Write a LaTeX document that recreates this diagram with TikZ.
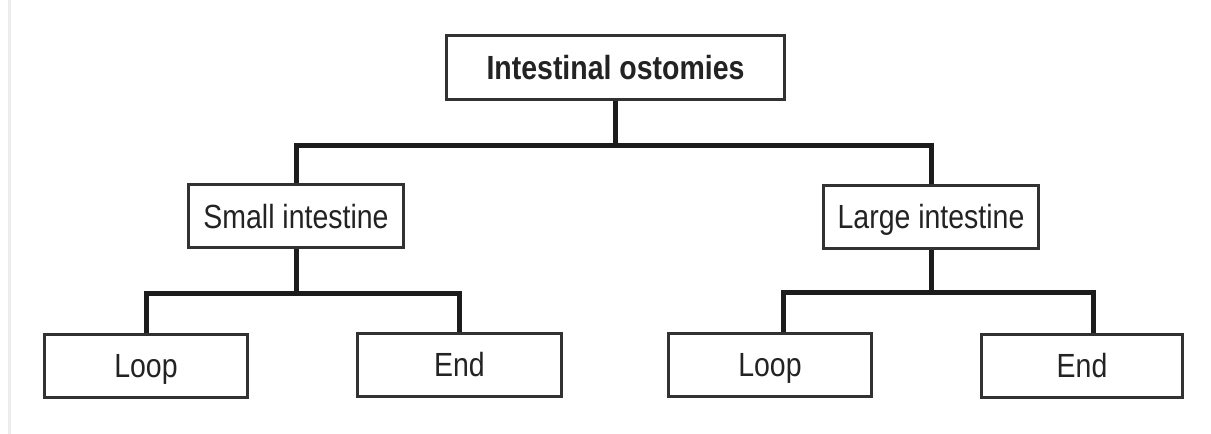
\documentclass[tikz,border=0pt]{standalone}
\usepackage{fontspec}
\setmainfont{Liberation Sans}[FakeStretch=0.85]
\usepackage{tikz}
\usetikzlibrary{positioning,calc}
\definecolor{boxline}{RGB}{50,50,50}
\definecolor{treeline}{RGB}{28,28,28}
\definecolor{textgray}{RGB}{35,35,35}

\begin{document}
\begin{tikzpicture}[x=1pt,y=-1pt,
  box/.style={draw=boxline, line width=2pt, fill=white, inner sep=0pt,
    minimum width=#1, minimum height=62pt, text=textgray,
    text height=24pt, text depth=0pt,
    font=\fontsize{33.5}{38}\selectfont},
  branch/.style={draw=treeline, line width=5pt}]
\useasboundingbox[fill=white] (0,0) rectangle (1211,434);
\draw[gray!15, line width=3pt] (9.5,0) -- (9.5,434);

% boxes
\node[box=337pt, minimum height=63pt, font=\fontsize{33.5}{38}\selectfont\bfseries] (top) at (615.5,67.5) {Intestinal ostomies};
\node[box=214pt] (small) at (296,216) {Small intestine};
\node[box=214pt] (large) at (931,216.5) {Large intestine};
\node[box=202pt] (sloop) at (146,365.5) {Loop};
\node[box=203pt] (send) at (459.5,364.5) {End};
\node[box=202pt] (lloop) at (770,364.5) {Loop};
\node[box=200pt] (lend) at (1082,365.5) {End};

% tree lines
\draw[branch] (top.south) -- ++(0,45) -| (small.north);
\draw[branch] (top.south) -- ++(0,45) -| (large.north);
\draw[branch] (small.south) -- ++(0,45) -| (sloop.north);
\draw[branch] (small.south) -- ++(0,45) -| (send.north);
\draw[branch] (large.south) -- ++(0,44) -| ([xshift=13pt]lloop.north);
\draw[branch] (large.south) -- ++(0,44) -| ([xshift=11pt]lend.north);

% redraw box outlines over line ends
\foreach \n in {top,small,large,sloop,send,lloop,lend}
  \draw[boxline, line width=2pt] (\n.north west) rectangle (\n.south east);
\end{tikzpicture}
\end{document}
